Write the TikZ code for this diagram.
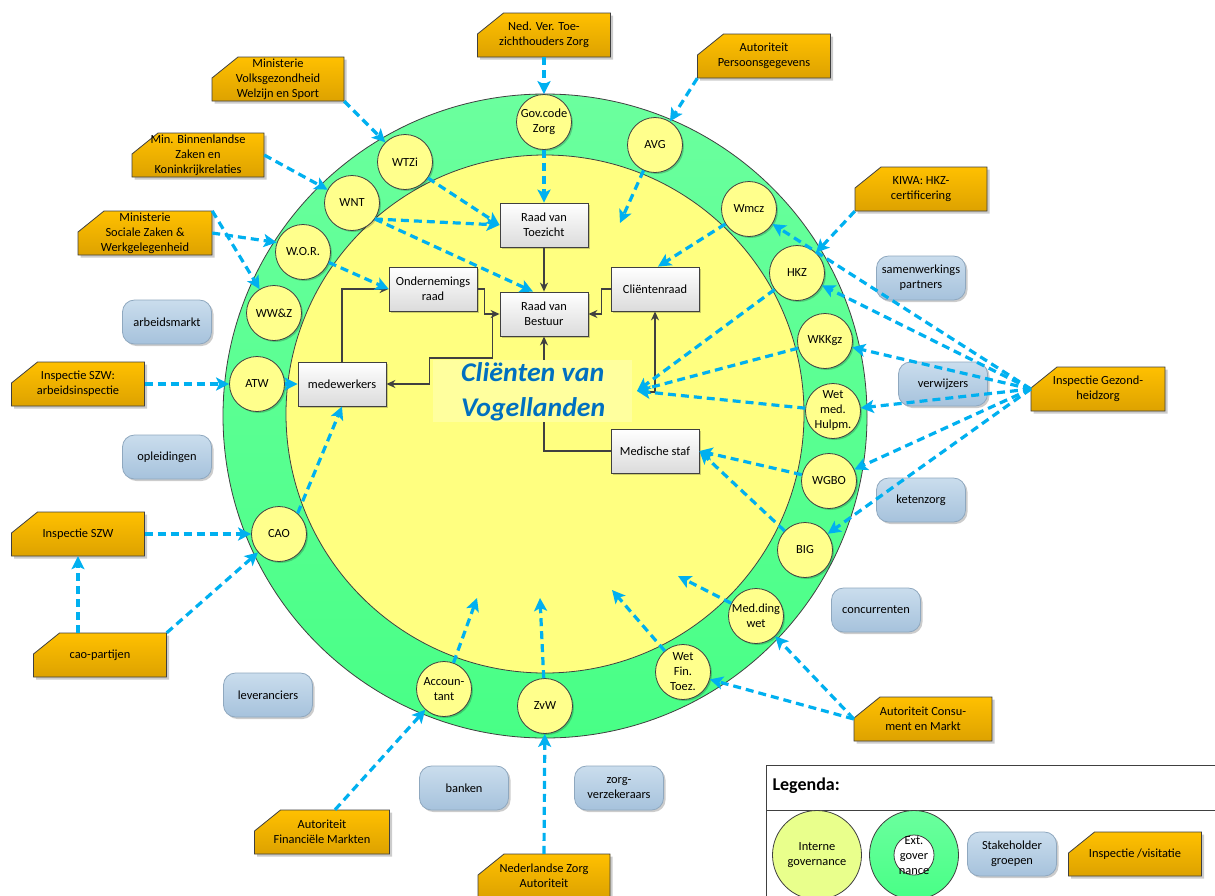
\documentclass[tikz,border=0pt]{standalone}
\usepackage{fontspec}
\usepackage{graphicx}
\setmainfont{Carlito}
\usetikzlibrary{arrows.meta,shadows,calc}
\definecolor{arrowblue}{HTML}{00B0F0}
\definecolor{darkline}{HTML}{404040}
\definecolor{lawyellow}{HTML}{FFFF8C}
\definecolor{inneryellow}{HTML}{FFFF80}
\definecolor{titlebg}{HTML}{FFFF9E}
\definecolor{ringA}{HTML}{6BFF9E}
\definecolor{ringB}{HTML}{48FF86}
\definecolor{stakeA}{HTML}{CADDED}
\definecolor{stakeB}{HTML}{A6C2DC}
\definecolor{stakeline}{HTML}{8FA8BF}
\definecolor{orA}{HTML}{FFC000}
\definecolor{orB}{HTML}{DDA200}
\definecolor{titleblue}{HTML}{0070C0}
\definecolor{legyellow}{HTML}{E9FF8C}
\newcommand\insp[5]{%
  \fill[black,opacity=0.2] ({#2-#4/2+2.5},{#3+22+2.5}) -- ({#2-#4/2+2.5},{#3-1+2.5}) -- ({#2-#4/2+26+2.5},{#3-22+2.5}) -- ({#2+#4/2+2.5},{#3-22+2.5}) -- ({#2+#4/2+2.5},{#3+22+2.5}) -- cycle;
  \path[inspfill] ({#2-#4/2},{#3+22}) -- ({#2-#4/2},{#3-1}) -- ({#2-#4/2+26},{#3-22}) -- ({#2+#4/2},{#3-22}) -- ({#2+#4/2},{#3+22}) -- cycle;
  \node[insptext, minimum width=#4pt] (#1) at (#2,#3) {#5};}
\begin{document}
\begin{tikzpicture}[x=1pt,y=-1pt, font=\fontsize{12.4}{15}\selectfont,
  conn/.style={draw=darkline, line width=1.3pt, -{Stealth[length=9pt,width=8pt]}},
  ba/.style={draw=arrowblue, line width=3.2pt, dash pattern=on 8pt off 5pt, -{Stealth[length=13pt,width=13pt,inset=3pt]}},
  law/.style={circle, minimum size=55pt, inner sep=0pt, draw=darkline, line width=0.8pt, fill=lawyellow, align=center,
    drop shadow={shadow xshift=1.5pt, shadow yshift=-1.5pt, opacity=0.2, fill=black}},
  org/.style={rectangle, minimum width=88pt, minimum height=44pt, inner sep=1pt, draw=darkline, line width=0.8pt,
    top color=white, bottom color=black!14, align=center,
    drop shadow={shadow xshift=2pt, shadow yshift=-2pt, opacity=0.2, fill=black}},
  stake/.style={rectangle, rounded corners=12pt, minimum width=89pt, minimum height=44pt, inner sep=1pt, draw=stakeline, line width=0.8pt,
    top color=stakeA, bottom color=stakeB, align=center,
    drop shadow={shadow xshift=2pt, shadow yshift=-2pt, opacity=0.2, fill=black}},
  insptext/.style={align=center, minimum height=44pt, inner sep=0pt},
  inspfill/.style={draw=darkline, line width=0.8pt, top color=orA, bottom color=orB}
]
\useasboundingbox (0,0) rectangle (1215,895);
\clip (0,0) rectangle (1215,895);
\fill[white] (0,0) rectangle (1215,895);

% rings
\path[draw=darkline, line width=0.8pt, top color=ringA, bottom color=ringB] (545,416) circle[radius=322pt];
\filldraw[fill=inneryellow, draw=darkline, line width=0.8pt] (545,414) circle[radius=259pt];

% organisation boxes
\node[org] (rvt) at (544,225) {Raad van\\Toezicht};
\node[org] (rvb) at (544,314) {Raad van\\Bestuur};
\node[org] (or) at (433,289) {Ondernemings\\raad};
\node[org] (cr) at (655,289) {Cliëntenraad};
\node[org] (mw) at (342,384) {medewerkers};
\node[org] (ms) at (655,451) {Medische staf};

% solid connectors
\draw[conn] (rvt) -- (rvb);
\draw[conn] (or.east) -- ++(7,0) |- (rvb.west);
\draw[conn] (cr.west) -- ++(-9,0) |- (rvb.east);
\draw[conn] (mw.north) |- (or.west);
\draw[conn] ([xshift=-7pt]rvb.west) -- ++(0,44) -- ++(-63,0) |- (mw.east);
\draw[conn] (ms.west) -| (rvb.south);
\coordinate (crs) at (646,392);
\draw[conn] (crs) -| (cr.south);

% title
\node[fill=titlebg, minimum width=199pt, minimum height=62pt, inner sep=0pt] (titlebox) at (532,391) {};
\node[anchor=west, align=left, inner sep=0pt, font=\fontsize{27}{35}\selectfont\bfseries\itshape, text=titleblue] (title) at (461,392)
  {\resizebox{143pt}{\height}{Cliënten van}\\\resizebox{144pt}{\height}{Vogellanden}};

% law circles
\node[law] (gov) at (544,122) {Gov.code\\Zorg};
\node[law] (avg) at (655,145) {AVG};
\node[law] (wmcz) at (749,209) {Wmcz};
\node[law] (hkz) at (797,273) {HKZ};
\node[law] (wkkgz) at (825,341) {WKKgz};
\node[law] (wetmed) at (833,411) {Wet\\med.\\Hulpm.};
\node[law] (wgbo) at (829,481) {WGBO};
\node[law] (big) at (805,550) {BIG};
\node[law] (mdw) at (756,616) {Med.ding\\wet};
\node[law] (wft) at (683,672) {Wet\\Fin.\\Toez.};
\node[law] (zvw) at (545,706) {ZvW};
\node[law] (acc) at (444,689) {Accoun-\\tant};
\node[law] (cao) at (279,534) {CAO};
\node[law] (atw) at (257,384) {ATW};
\node[law] (wwz) at (274,313) {WW\&Z};
\node[law] (wor) at (303,252) {W.O.R.};
\node[law] (wnt) at (352,203) {WNT};
\node[law] (wtzi) at (405,162) {WTZi};

% stakeholder groups
\node[stake] (sarb) at (167,322) {arbeidsmarkt};
\node[stake] (sopl) at (167,457) {opleidingen};
\node[stake] (ssam) at (921,278) {samenwerkings\\partners};
\node[stake] (sver) at (943,384) {verwijzers};
\node[stake] (sket) at (921,500) {ketenzorg};
\node[stake] (scon) at (876,610) {concurrenten};
\node[stake] (slev) at (268,695) {leveranciers};
\node[stake] (sban) at (464,788) {banken};
\node[stake] (szv) at (619,788) {zorg-\\verzekeraars};

% inspection boxes
\insp{vws}{278}{79}{132}{Ministerie\\Volksgezondheid\\Welzijn en Sport}
\insp{bzk}{198}{155}{132}{Min. Binnenlandse\\Zaken en\\Koninkrijkrelaties}
\insp{szwm}{145}{233}{134}{Ministerie\\Sociale Zaken \&\\Werkgelegenheid}
\insp{nvtz}{544}{35}{133}{Ned. Ver. Toe-\\zichthouders Zorg}
\insp{ap}{764}{56}{133}{Autoriteit\\Persoonsgegevens}
\insp{kiwa}{921}{189}{132}{KIWA: HKZ-\\certificering}
\insp{igz}{1098}{389}{134}{Inspectie Gezond-\\heidzorg}
\insp{iszwa}{78}{384}{133}{Inspectie SZW:\\arbeidsinspectie}
\insp{iszw}{78}{534}{133}{Inspectie SZW}
\insp{caop}{100}{655}{133}{cao-partijen}
\insp{afm}{322}{832}{135}{Autoriteit\\Financiële Markten}
\insp{nza}{544}{876}{132}{Nederlandse Zorg\\Autoriteit}
\insp{acm}{923}{719}{138}{Autoriteit Consu-\\ment en Markt}

% free ends
\coordinate (avgend) at (620,223);
\coordinate (cpt) at (637,391);
\coordinate (mdend) at (678,576);
\coordinate (wfend) at (612,590);
\coordinate (zvwend) at (540,598);
\coordinate (accend) at (477,598);

% blue dashed arrows
\draw[ba] (nvtz.south) -- (gov.north);
\draw[ba] (gov) -- (rvt);
\draw[ba] (vws.south east) -- (wtzi);
\draw[ba] (bzk.east) -- (wnt);
\draw[ba] (szwm.east) -- (wor.160);
\draw[ba] (szwm.north east) -- (wwz);
\draw[ba] (wtzi.-35) -- (rvt.west);
\draw[ba] (wnt.-35) -- (rvt.west);
\draw[ba] (wnt.-35) -- ([xshift=-11pt]rvb.north);
\draw[ba] (wor.-22) -- (or.west);
\draw[ba] (ap.south west) -- (avg);
\draw[ba] (avg) -- (avgend);
\draw[ba] (wmcz) -- ([xshift=3pt]cr.north);
\draw[ba] (kiwa.south west) -- (hkz);
\foreach \t in {wmcz,hkz,wkkgz,wetmed,wgbo,big} \draw[ba] (igz.west) -- (\t);
\draw[ba] (hkz) -- (cpt);
\draw[ba] (wkkgz) -- (cpt);
\draw[ba] (wetmed) -- (cpt);
\draw[ba] (wgbo) -- (ms.east);
\draw[ba] (big) -- (ms.east);
\draw[ba] (mdw) -- (mdend);
\draw[ba] (wft) -- (wfend);
\draw[ba] (zvw) -- (zvwend);
\draw[ba] (acc) -- (accend);
\draw[ba] (acm.west) -- (mdw);
\draw[ba] (acm.west) -- (wft);
\draw[ba] ([xshift=13pt]afm.north) -- (acc);
\draw[ba] (nza.north) -- (zvw);
\draw[ba] (iszwa.east) -- (atw);
\draw[ba] (atw) -- (mw.west);
\draw[ba] (cao.48) -- (mw.south);
\draw[ba] (iszw.east) -- (cao);
\draw[ba] ([xshift=-22pt]caop.north) -- (iszw.south);
\draw[ba] (caop.north east) -- (cao);

% legend
\draw[draw=darkline, line width=0.8pt, fill=white] (766,765) rectangle (1240,920);
\draw[draw=darkline, line width=0.8pt] (766,810) -- (1240,810);
\node[anchor=west, font=\fontsize{18}{21}\selectfont\bfseries] (legt) at (769,786) {Legenda:};
\node[circle, minimum size=89pt, inner sep=0pt, draw=darkline, line width=0.8pt, fill=legyellow, align=center] (lint) at (817,855) {Interne\\governance};
\node[circle, minimum size=89pt, inner sep=0pt, draw=darkline, line width=0.8pt, top color=ringA, bottom color=ringB] (lext) at (914,855) {};
\node[circle, minimum size=40pt, inner sep=0pt, draw=darkline, line width=0.8pt, fill=white] (lexti) at (914,855) {};
\node[align=center, inner sep=0pt] (lextt) at (914,856) {Ext.\\gover\\nance};
\node[stake] (lstake) at (1012,854) {Stakeholder\\groepen};
\insp{linsp}{1135}{854}{133}{Inspectie /visitatie}
\end{tikzpicture}
\end{document}
